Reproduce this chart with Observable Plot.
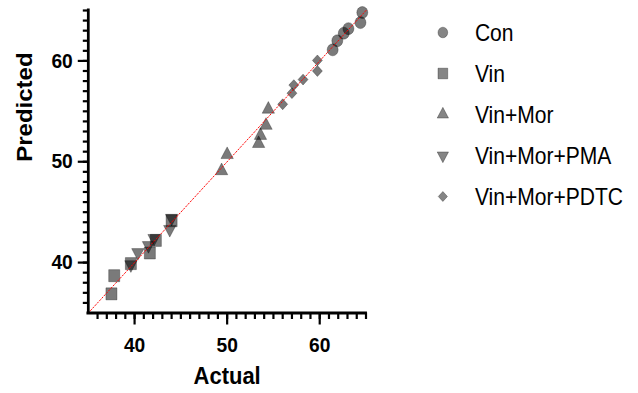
<!DOCTYPE html>
<html>
<head>
<meta charset="utf-8">
<script src="https://cdn.jsdelivr.net/npm/d3@7"></script>
<script src="https://cdn.jsdelivr.net/npm/@observablehq/plot@0.6"></script>
<style>
  html, body { margin: 0; padding: 0; background: #fff; overflow: hidden; }
  #wrap { position: relative; width: 697px; height: 393px; transform: scaleX(0.915); transform-origin: 0 0; }
  #wrap > svg { position: absolute; left: 0; top: 0; }
</style>
</head>
<body>
<div id="wrap"></div>
<script>
// ---- data ----
const groups = ["Con", "Vin", "Vin+Mor", "Vin+Mor+PMA", "Vin+Mor+PDTC"];

const conActual = [64.6, 64.4, 63.1, 62.6, 61.9, 61.4];
const conPredicted = [64.8, 63.8, 63.2, 62.75, 62.0, 61.1];

const vinActual = [37.5, 37.8, 39.6, 41.65, 42.3, 44.0];
const vinPredicted = [36.9, 38.7, 39.9, 40.95, 42.2, 44.15];

const morActual = [49.4, 50.0, 53.4, 53.6, 54.2, 54.45];
const morPredicted = [49.1, 50.7, 51.8, 52.6, 53.6, 55.2];

const pmaActual = [39.6, 40.35, 41.5, 42.1, 43.8, 44.0];
const pmaPredicted = [39.8, 41.0, 41.7, 42.4, 43.3, 44.4];

const pdtcActual = [56.0, 57.0, 57.2, 58.2, 59.75, 59.75];
const pdtcPredicted = [55.7, 56.8, 57.6, 58.15, 59.0, 60.05];

const axisDomain = [35, 65];
const xTicks = [40, 50, 60];
const yTicks = [40, 50, 60];
const minorTicks = d3.range(36, 66);
const identityLine = [35, 65];

const xLabel = "Actual";
const yLabel = "Predicted";

// ---- build rows ----
const toRows = (g, xs, ys) => xs.map((x, i) => ({group: g, actual: x, predicted: ys[i]}));
const conRows = toRows(groups[0], conActual, conPredicted);
const vinRows = toRows(groups[1], vinActual, vinPredicted);
const morRows = toRows(groups[2], morActual, morPredicted);
const pmaRows = toRows(groups[3], pmaActual, pmaPredicted);
const pdtcRows = toRows(groups[4], pdtcActual, pdtcPredicted);

const dotStyle = {x: "actual", y: "predicted", fill: "#000", fillOpacity: 0.52, stroke: "#000", strokeOpacity: 0.3, strokeWidth: 1};

const plot = Plot.plot({
  width: 697,
  height: 393,
  marginLeft: 96,
  marginRight: 297.5,
  marginTop: 10,
  marginBottom: 80.5,
  style: {fontFamily: "Liberation Sans, Arial, sans-serif", background: "#fff"},
  x: {domain: axisDomain},
  y: {domain: axisDomain},
  marks: [
    Plot.dot(vinRows, {...dotStyle, symbol: "square", r: 6.8}),
    Plot.dot(pmaRows, {...dotStyle, symbol: "triangle", rotate: 180, r: 5}),
    Plot.dot(morRows, {...dotStyle, symbol: "triangle", r: 5}),
    Plot.dot(pdtcRows, {...dotStyle, symbol: "diamond2", r: 4.9}),
    Plot.dot(conRows, {...dotStyle, symbol: "circle", r: 6}),
    Plot.line(identityLine, {x: d => d, y: d => d, stroke: "#ff0000", strokeWidth: 1, strokeDasharray: "1.5,2"}),
    Plot.axisX({ticks: minorTicks, tickSize: 6.5, tickFormat: () => "", label: null, strokeWidth: 2.4, stroke: "#000"}),
    Plot.axisY({ticks: minorTicks, tickSize: 5.5, tickFormat: () => "", label: null, strokeWidth: 2.2, stroke: "#000"}),
    Plot.axisX({ticks: xTicks, tickSize: 12, tickPadding: 12, label: null, strokeWidth: 2.4, stroke: "#000", fill: "#000", fontSize: 21, fontWeight: "bold"}),
    Plot.axisY({ticks: yTicks, tickSize: 11, tickPadding: 6, label: null, strokeWidth: 2.2, stroke: "#000", fill: "#000", fontSize: 21, fontWeight: "bold"}),
    Plot.ruleX([axisDomain[0]], {strokeWidth: 3, stroke: "#000", strokeLinecap: "square"}),
    Plot.ruleY([axisDomain[0]], {strokeWidth: 3, stroke: "#000", strokeLinecap: "square"}),
    Plot.text([xLabel], {text: d => d, frameAnchor: "bottom", dy: 71, fontSize: 24, fontWeight: "bold", fill: "#000"}),
    Plot.text([yLabel], {text: d => d, frameAnchor: "left", dx: -69, rotate: -90, fontSize: 24, fontWeight: "bold", fill: "#000"})
  ]
});
document.getElementById("wrap").appendChild(plot);

// ---- legend (drawn inside the same svg) ----
const symType = {
  "Con": {t: d3.symbolCircle, r: 5.3, rot: 0},
  "Vin": {t: d3.symbolSquare, r: 6, rot: 0},
  "Vin+Mor": {t: d3.symbolTriangle, r: 4.6, rot: 0},
  "Vin+Mor+PMA": {t: d3.symbolTriangle, r: 4.6, rot: 180},
  "Vin+Mor+PDTC": {t: d3.symbolDiamond2 || d3.symbolSquare, r: 4.5, rot: d3.symbolDiamond2 ? 0 : 45}
};
const rowY0 = 32.5, rowStep = 41;
const legend = d3.select(plot).append("g").attr("aria-label", "legend").attr("text-anchor", "start");
const items = legend.selectAll("g.item").data(groups).join("g")
  .attr("class", "item")
  .attr("transform", (d, i) => `translate(0,${rowY0 + i * rowStep})`);
items.append("path")
  .attr("d", d => d3.symbol().type(symType[d].t).size(Math.PI * symType[d].r ** 2)())
  .attr("transform", d => `translate(484,0) rotate(${symType[d].rot})`)
  .attr("fill", "#000").attr("fill-opacity", 0.48)
  .attr("stroke", "#000").attr("stroke-opacity", 0.3);
items.append("text")
  .attr("x", 519).attr("y", 8.3)
  .attr("text-anchor", "start")
  .attr("font-family", "Liberation Sans, Arial, sans-serif")
  .attr("font-size", 23)
  .attr("fill", "#000")
  .text(d => d);
</script>
</body>
</html>
